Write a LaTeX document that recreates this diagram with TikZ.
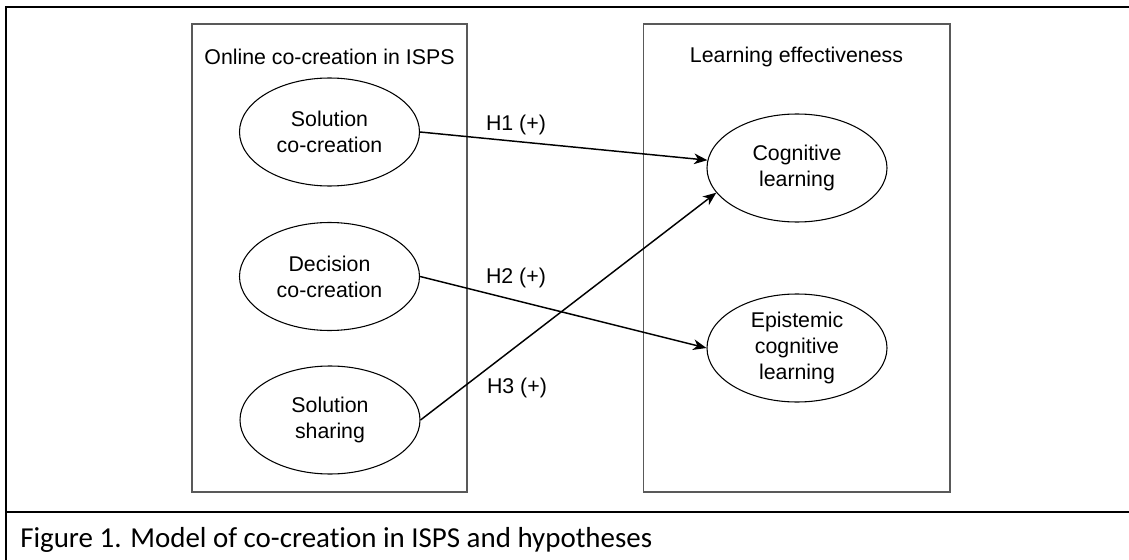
\documentclass[tikz,border=0pt]{standalone}
\usepackage{fontspec}
\setmainfont{Liberation Sans}
\newfontfamily\capfont[Ligatures=NoCommon]{Carlito}
\usetikzlibrary{shapes.geometric,arrows.meta}

\begin{document}
\begin{tikzpicture}[x=0.75pt,y=-0.75pt,
  frame/.style={line width=1.6pt},
  groupbox/.style={rectangle, draw=black!65, line width=1.1pt, inner sep=0pt},
  construct/.style={ellipse, draw, line width=0.8pt, minimum width=135pt,
    minimum height=81pt, inner sep=0pt, align=center,
    font=\fontsize{16}{19.5}\selectfont},
  label16/.style={font=\fontsize{16}{19.5}\selectfont, inner sep=0pt},
  hpath/.style={line width=1.1pt, -{Stealth[length=10pt,width=8pt,inset=3pt]}}]

\useasboundingbox (0,0) rectangle (1129,560);
\clip (0,0) rectangle (1129,560);

% table cell around the figure and its caption
\coordinate (fTL) at (6,7);
\coordinate (fTR) at (1140,7);
\coordinate (fBL) at (6,575);
\coordinate (sL) at (6,512);
\coordinate (sR) at (1140,512);
\draw[frame] (fBL) -- (fTL) -- (fTR);
\draw[frame] (sL) -- (sR);

% the two construct groups
\node[groupbox, minimum width=206.25pt, minimum height=351pt] (lbox) at (329.5,258) {};
\node[groupbox, minimum width=230pt, minimum height=351pt] (rbox) at (796.75,258) {};
\node[label16] (ltitle) at (329.5,57) {Online co-creation in ISPS};
\node[label16] (rtitle) at (796.5,57) {Learning effectiveness};

% constructs
\node[construct] (sc) at (329.5,132) {Solution\\co-creation};
\node[construct] (dc) at (329.5,276.5) {Decision\\co-creation};
\node[construct] (ss) at (330,420) {Solution\\sharing};
\node[construct] (cl) at (797,168) {Cognitive\\learning};
\node[construct] (el) at (797,348) {Epistemic\\cognitive\\learning};

% hypotheses
\draw[hpath] (sc.east) -- (cl.175);
\draw[hpath] (dc.east) -- (el.west);
\draw[hpath] (ss.east) -- (cl.197);
\node[label16] (h1) at (516,125) {H1 (+)};
\node[label16] (h2) at (516,278) {H2 (+)};
\node[label16] (h3) at (517,388) {H3 (+)};

% caption
\node[anchor=west, inner sep=0pt, font=\capfont\fontsize{21.7}{26}\selectfont]
  (cap) at (20,540) {Figure 1. Model of co-creation in ISPS and hypotheses};
\end{tikzpicture}
\end{document}
